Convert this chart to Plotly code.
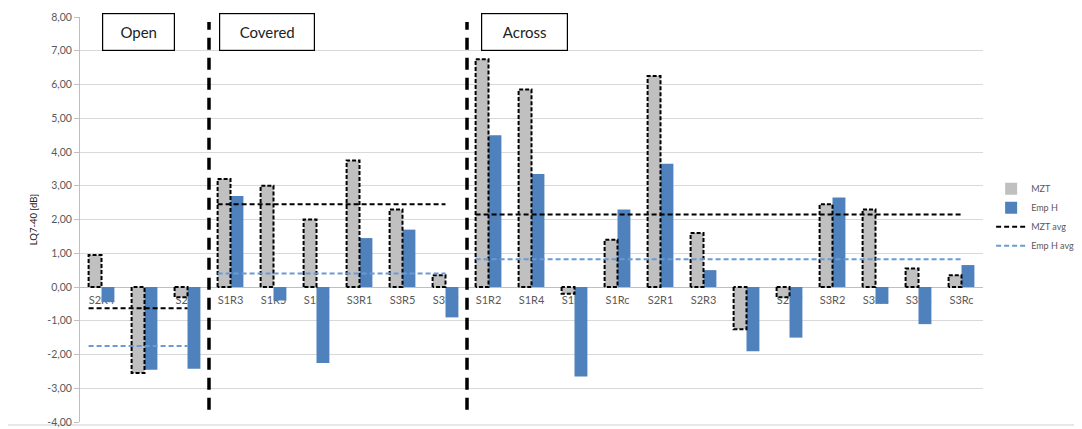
import plotly.graph_objects as go

# ---------------------------------------------------------------------------
# Data
# ---------------------------------------------------------------------------

categories = [
    "S2R4", "S2R6", "S2Rc",
    "S1R3", "S1R5", "S1R7", "S3R1", "S3R5", "S3R7",
    "S1R2", "S1R4", "S1R6", "S1Rc", "S2R1", "S2R3", "S2R5", "S2R7",
    "S3R2", "S3R4", "S3R6", "S3Rc",
]
mzt = [
    0.95, -2.55, -0.30,
    3.20, 3.00, 2.00, 3.75, 2.30, 0.35,
    6.75, 5.85, -0.20, 1.40, 6.25, 1.60, -1.25, -0.30,
    2.45, 2.30, 0.55, 0.35,
]
emp_h = [
    -0.45, -2.45, -2.42,
    2.70, -0.40, -2.25, 1.45, 1.70, -0.90,
    4.50, 3.35, -2.65, 2.30, 3.65, 0.50, -1.90, -1.50,
    2.65, -0.50, -1.10, 0.65,
]

group_names = ["Open", "Covered", "Across"]
group_first = [0, 3, 9]      # index of first category in each group
group_last = [2, 8, 20]      # index of last category in each group
mzt_avg = [-0.63, 2.45, 2.15]
emp_h_avg = [-1.75, 0.40, 0.82]

y_ticks = [8, 7, 6, 5, 4, 3, 2, 1, 0, -1, -2, -3, -4]

# ---------------------------------------------------------------------------
# Styling
# ---------------------------------------------------------------------------

FONT = "Lato"
GRAY_FILL = "#c0c0c0"
BLUE = "#4f81bd"
BLUE_AVG = "#6a9ad4"
TEXT_GRAY = "#595959"
BAR_W = 0.3

x_idx = list(range(len(categories)))

fig = go.Figure()

fig.add_trace(go.Bar(
    x=x_idx, y=mzt, name="MZT",
    offset=-BAR_W, width=BAR_W,
    marker=dict(color=GRAY_FILL, line=dict(width=0)),
))
fig.add_trace(go.Bar(
    x=x_idx, y=emp_h, name="Emp H",
    offset=0, width=BAR_W,
    marker=dict(color=BLUE, line=dict(width=0)),
))

# dashed outline around the MZT bars
ox, oy = [], []
for i, v in zip(x_idx, mzt):
    ox += [i - BAR_W, i - BAR_W, i, i, i - BAR_W, None]
    oy += [0, v, v, 0, 0, None]
fig.add_trace(go.Scatter(
    x=ox, y=oy, mode="lines", showlegend=False, hoverinfo="skip",
    line=dict(color="black", width=2, dash="4px,2px"),
))

# group averages
for g in range(len(group_names)):
    xs = [group_first[g] - BAR_W, group_last[g]]
    fig.add_trace(go.Scatter(
        x=xs, y=[mzt_avg[g]] * 2, mode="lines", name="MZT avg",
        legendgroup="mzt_avg", showlegend=(g == 0),
        line=dict(color="black", width=2, dash="5px,3px"),
    ))
    fig.add_trace(go.Scatter(
        x=xs, y=[emp_h_avg[g]] * 2, mode="lines", name="Emp H avg",
        legendgroup="emp_avg", showlegend=(g == 0),
        line=dict(color=BLUE_AVG, width=2, dash="5px,3px"),
    ))

# group separators
for g in range(1, len(group_names)):
    sep = group_first[g] - 0.5
    fig.add_shape(
        type="line", xref="x", yref="y",
        x0=sep, x1=sep, y0=-3.64, y1=7.85,
        line=dict(color="black", width=3.5, dash="12px,8px"),
    )

# group label boxes
box_x = [0.86, 3.86, 9.84]
box_w = [65, 88, 79]
for name, bx, bw in zip(group_names, box_x, box_w):
    fig.add_annotation(
        x=bx, y=7.57, xref="x", yref="y", text=name, showarrow=False,
        width=bw, height=30, borderpad=3,
        bordercolor="black", borderwidth=1.2, bgcolor="white",
        font=dict(family=FONT, size=15, color="#222222"),
    )

# outer chart frame
fig.add_shape(
    type="rect", xref="paper", yref="paper",
    x0=-0.081, x1=1.107, y0=-0.0074, y1=1.032,
    line=dict(color="#d0d0d0", width=1), layer="below",
)

# the page body has an 8px margin, so the figure is drawn 8px in from the corner
fig.update_layout(
    width=1074, height=421,
    margin=dict(l=72, r=99, t=9, b=7, autoexpand=False),
    paper_bgcolor="white", plot_bgcolor="white",
    barmode="overlay",
    font=dict(family=FONT, size=10, color=TEXT_GRAY),
    showlegend=True,
    legend=dict(
        x=1.009, y=0.612, xanchor="left", yanchor="top",
        font=dict(family=FONT, size=9, color=TEXT_GRAY),
        itemwidth=30, tracegroupgap=0, bgcolor="rgba(0,0,0,0)",
    ),
    xaxis=dict(
        range=[-0.5, len(categories) - 0.5],
        tickmode="array", tickvals=x_idx, ticktext=categories,
        showgrid=False, zeroline=False,
        showline=True, linecolor="#bfbfbf", linewidth=1,
        anchor="free", position=1 / 3,
        ticks="", ticklabelstandoff=3,
        tickfont=dict(family=FONT, size=11, color=TEXT_GRAY),
        layer="below traces", fixedrange=True, automargin=False,
    ),
    yaxis=dict(
        range=[-4, 8], domain=[0, 1],
        tickmode="array", tickvals=y_ticks,
        ticktext=[f"{v:.2f}".replace(".", ",") for v in y_ticks],
        showgrid=True, gridcolor="#d9d9d9", gridwidth=1,
        zeroline=False,
        showline=True, linecolor="#bfbfbf", linewidth=1,
        ticks="outside", ticklen=5, tickcolor="#bfbfbf",
        tickfont=dict(family=FONT, size=10.5, color=TEXT_GRAY),
        title=dict(text="LQ7-40 [dB]", standoff=8,
                   font=dict(family=FONT, size=9.5, color="#222222")),
        fixedrange=True, automargin=False,
    ),
)

fig.write_html("out.html")
